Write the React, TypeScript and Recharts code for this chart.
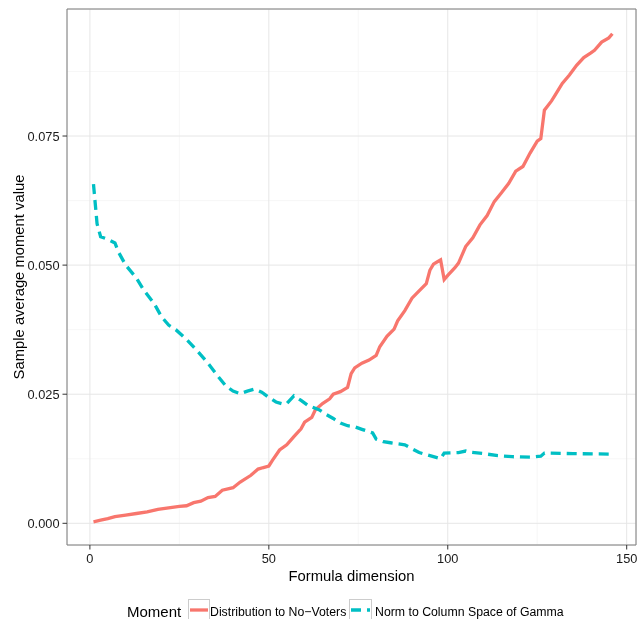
import React from 'react';
import {
  LineChart, Line, XAxis, YAxis, CartesianGrid, ReferenceArea, Legend, Label,
} from 'recharts';

const distX = [1, 3, 5, 7, 10, 13, 16, 19, 22, 25, 27, 29, 31, 33, 35, 37, 40, 42, 45, 47, 50, 51, 53, 55, 57, 59, 60, 62, 63, 65, 67, 68, 70, 72, 73, 74, 76, 78, 80, 81, 83, 85, 86, 88, 90, 92, 94, 95, 96, 97, 98, 99, 100, 102, 103, 104, 105, 107, 109, 111, 113, 115, 117, 119, 121, 123, 125, 126, 127, 129, 130, 132, 134, 136, 138, 140, 141, 143, 145, 146];
const distY = [0.0003, 0.0006, 0.0009, 0.0013, 0.0016, 0.0019, 0.0022, 0.0027, 0.0030, 0.0033, 0.0034, 0.0040, 0.0043, 0.0050, 0.0052, 0.0064, 0.0069, 0.0080, 0.0093, 0.0105, 0.0111, 0.0122, 0.0142, 0.0152, 0.0168, 0.0183, 0.0196, 0.0205, 0.0220, 0.0232, 0.0241, 0.0250, 0.0255, 0.0263, 0.0290, 0.0301, 0.0310, 0.0316, 0.0325, 0.0342, 0.0362, 0.0376, 0.0392, 0.0412, 0.0436, 0.0450, 0.0464, 0.0490, 0.0502, 0.0506, 0.0510, 0.0472, 0.0480, 0.0495, 0.0504, 0.0520, 0.0536, 0.0553, 0.0578, 0.0596, 0.0623, 0.0640, 0.0658, 0.0682, 0.0691, 0.0717, 0.0740, 0.0745, 0.0800, 0.0818, 0.0829, 0.0852, 0.0868, 0.0887, 0.0902, 0.0911, 0.0916, 0.0932, 0.0940, 0.0948];

const normX = [1, 2, 3, 5, 7, 8, 10, 13, 15, 18, 20, 22, 24, 27, 30, 33, 36, 38, 40, 42, 44, 46, 48, 50, 52, 54, 55, 57, 59, 61, 64, 66, 68, 70, 72, 74, 76, 79, 80, 82, 84, 88, 92, 96, 98, 99, 103, 105, 106, 110, 114, 118, 123, 126, 127, 135, 146];
const normY = [0.0657, 0.0580, 0.0555, 0.0550, 0.0543, 0.0525, 0.0500, 0.0475, 0.0452, 0.0425, 0.0400, 0.0384, 0.0375, 0.0356, 0.0334, 0.0310, 0.0283, 0.0266, 0.0256, 0.0251, 0.0256, 0.0260, 0.0254, 0.0244, 0.0235, 0.0231, 0.0232, 0.0247, 0.0238, 0.0228, 0.0220, 0.0211, 0.0203, 0.0194, 0.0189, 0.0187, 0.0182, 0.0175, 0.0163, 0.0158, 0.0156, 0.0152, 0.0137, 0.0129, 0.0125, 0.0136, 0.0137, 0.0140, 0.0138, 0.0135, 0.0131, 0.0129, 0.0128, 0.0130, 0.0136, 0.0135, 0.0134];

const xTicks = [0, 50, 100, 150];
const yTicks = [0, 0.025, 0.05, 0.075];
const xMinor = [25, 75, 125];
const yMinor = [0.0125, 0.0375, 0.0625, 0.0875];
const xDomain = [-6.4, 152.6];
const yDomain = [-0.0042, 0.0996];

const seriesNames = ['Distribution to No\u2212Voters', 'Norm to Column Space of Gamma'];
const legendTitle = 'Moment';
const xTitle = 'Formula dimension';
const yTitle = 'Sample average moment value';

const RED = '#F8766D';
const TEAL = '#00BFC4';
const FONT = '"Liberation Sans", Arial, Helvetica, sans-serif';

const distData = distX.map((x, i) => ({ x, y: distY[i] }));
const normData = normX.map((x, i) => ({ x, y: normY[i] }));

const LegendContent = () => (
  <svg width={630} height={22} style={{ display: 'block', overflow: 'visible' }}>
    <text x={119} y={18.5} fontSize={15} fill="#000" fontFamily={FONT}>{legendTitle}</text>
    <rect x={180.5} y={1.5} width={21} height={21} fill="#fff" stroke="#cccccc" strokeWidth={1} />
    <line x1={182} x2={200} y1={12} y2={12} stroke={RED} strokeWidth={3.3} />
    <text x={202} y={18} fontSize={12.3} fill="#000" fontFamily={FONT}>{seriesNames[0]}</text>
    <rect x={341.5} y={1.5} width={22} height={21} fill="#fff" stroke="#cccccc" strokeWidth={1} />
    <line x1={343} x2={362} y1={12} y2={12} stroke={TEAL} strokeWidth={3.3} strokeDasharray="10 6" />
    <text x={367} y={18} fontSize={12.3} fill="#000" fontFamily={FONT}>{seriesNames[1]}</text>
  </svg>
);

const XTitle = (props: any) => {
  const vb = props.viewBox || {};
  return (
    <text x={vb.x + vb.width / 2} y={vb.y + 36} textAnchor="middle" fontSize={14.8} fill="#000" fontFamily={FONT}>
      {xTitle}
    </text>
  );
};

const YTitle = (props: any) => {
  const vb = props.viewBox || {};
  const cx = 10.5;
  const cy = vb.y + vb.height / 2;
  return (
    <text x={cx} y={cy} transform={`rotate(-90 ${cx} ${cy})`} textAnchor="middle" dominantBaseline="central" fontSize={14.8} fill="#000" fontFamily={FONT}>
      {yTitle}
    </text>
  );
};

export default function App() {
  return (
    <div style={{ position: 'fixed', top: 8, left: 8, width: 630, height: 611, fontFamily: FONT }}>
      <LineChart width={630} height={611} margin={{ top: 1, right: 2, bottom: 0, left: 0 }}>
        <CartesianGrid stroke="#f5f5f5" strokeWidth={0.8} verticalValues={xMinor} horizontalValues={yMinor} />
        <CartesianGrid stroke="#e6e6e6" strokeWidth={1} />
        <XAxis
          type="number"
          dataKey="x"
          domain={xDomain}
          ticks={xTicks}
          allowDataOverflow
          height={74}
          axisLine={false}
          tickSize={4.5}
          tickMargin={4.5}
          tickLine={{ stroke: '#333' }}
          tick={{ fill: '#1a1a1a', fontSize: 12.8, fontFamily: FONT }}
        >
          <Label content={<XTitle />} />
        </XAxis>
        <YAxis
          type="number"
          domain={yDomain}
          ticks={yTicks}
          allowDataOverflow
          width={59}
          axisLine={false}
          tickSize={4.5}
          tickMargin={3}
          tickLine={{ stroke: '#333' }}
          tickFormatter={(v: number) => v.toFixed(3)}
          tick={{ fill: '#1a1a1a', fontSize: 12.8, fontFamily: FONT }}
        >
          <Label content={<YTitle />} />
        </YAxis>
        <ReferenceArea x1={xDomain[0]} x2={xDomain[1]} y1={yDomain[0]} y2={yDomain[1]} fill="none" fillOpacity={0} stroke="#7f7f7f" strokeWidth={1} ifOverflow="visible" />
        <Line data={distData} dataKey="y" type="linear" stroke={RED} strokeWidth={3.3} dot={false} activeDot={false} isAnimationActive={false} name={seriesNames[0]} />
        <Line data={normData} dataKey="y" type="linear" stroke={TEAL} strokeWidth={3.3} strokeDasharray="10 6" dot={false} activeDot={false} isAnimationActive={false} name={seriesNames[1]} />
        <Legend
          verticalAlign="middle"
          align="center"
          layout="horizontal"
          content={<LegendContent />}
          wrapperStyle={{ top: 590, left: 0, width: 630, height: 21, bottom: 'auto', right: 'auto' }}
        />
      </LineChart>
    </div>
  );
}
